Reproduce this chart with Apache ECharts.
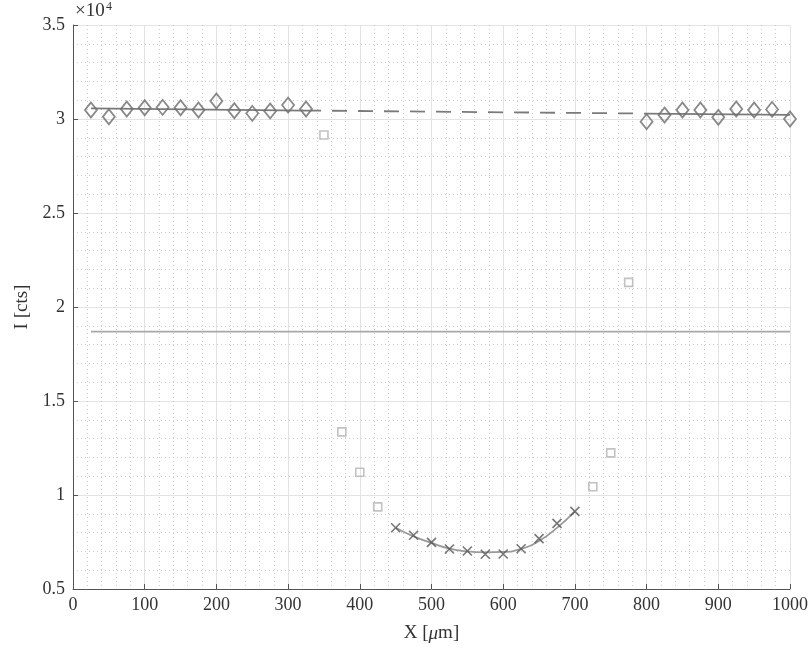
<!DOCTYPE html>
<html><head><meta charset="utf-8">
<script src="https://cdn.jsdelivr.net/npm/echarts@6/dist/echarts.min.js"></script>
<style>html,body{margin:0;padding:0;background:#fff}#c{width:812px;height:653px}</style>
</head><body><div id="c"></div>
<script>
// Values in units of 10^4 counts
const diamondX = [25,50,75,100,125,150,175,200,225,250,275,300,325,800,825,850,875,900,925,950,975,1000];
const diamondY = [3.048,3.012,3.053,3.060,3.062,3.060,3.048,3.096,3.044,3.030,3.043,3.074,3.053,2.986,3.021,3.048,3.048,3.009,3.053,3.048,3.051,3.000];
const squareX = [350,375,400,425,725,750,775];
const squareY = [2.915,1.336,1.121,0.937,1.044,1.224,2.131];
const crossX = [450,475,500,525,550,575,600,625,650,675,700];
const crossY = [0.826,0.786,0.748,0.713,0.702,0.685,0.686,0.714,0.768,0.849,0.913];
const curveY = [0.826,0.780,0.745,0.715,0.700,0.695,0.697,0.713,0.755,0.825,0.913];
const fitSolidLeftX = [25,325];
const fitSolidLeftY = [3.057,3.045];
const fitDashX = [325,800];
const fitDashY = [3.045,3.029];
const fitSolidRightX = [800,1000];
const fitSolidRightY = [3.029,3.022];
const hLineX = [25,1000];
const hLineY = [1.869,1.869];
const yTicks = ['0.5','1','1.5','2','2.5','3','3.5'];
const xTicks = ['0','100','200','300','400','500','600','700','800','900','1000'];

const zip = (a,b) => a.map((v,i)=>[v,b[i]]);
const FONT = 'Liberation Serif';
const chart = echarts.init(document.getElementById('c'));
chart.setOption({
  animation:false,
  backgroundColor:'#fff',
  grid:{left:73,right:22,top:25,bottom:64},
  xAxis:{type:'value',min:0,max:1000,interval:100,
    name:'X [{i|μ}m]',nameLocation:'middle',nameGap:35,
    nameTextStyle:{fontFamily:FONT,fontSize:19,color:'#333',
      rich:{i:{fontFamily:FONT,fontSize:19,fontStyle:'italic',color:'#333'}}},
    axisLine:{show:true,onZero:false,lineStyle:{color:'#555',width:1}},
    axisTick:{show:true,inside:true,length:5,lineStyle:{color:'#555'}},
    axisLabel:{fontFamily:FONT,fontSize:18,color:'#333',margin:7,
      formatter:(v)=>{const i=Math.round(v/100);return xTicks[i]!==undefined?xTicks[i]:'';}},
    splitLine:{show:true,lineStyle:{color:'#e3e3e3',width:1}},
    minorTick:{show:false,splitNumber:5},
    minorSplitLine:{show:true,lineStyle:{color:'#cccccc',width:1,type:[1,3]}}
  },
  yAxis:{type:'value',min:0.5,max:3.5,interval:0.5,
    name:'I [cts]',nameLocation:'middle',nameGap:41,
    nameTextStyle:{fontFamily:FONT,fontSize:19,color:'#333'},
    axisLine:{show:true,onZero:false,lineStyle:{color:'#555',width:1}},
    axisTick:{show:true,inside:true,length:5,lineStyle:{color:'#555'}},
    axisLabel:{fontFamily:FONT,fontSize:18,color:'#333',margin:8,
      formatter:(v)=>{const i=Math.round((v-0.5)/0.5);return yTicks[i]!==undefined?yTicks[i]:'';}},
    splitLine:{show:true,lineStyle:{color:'#e3e3e3',width:1}},
    minorTick:{show:false,splitNumber:5},
    minorSplitLine:{show:true,lineStyle:{color:'#cccccc',width:1,type:[1,3]}}
  },
  graphic:[
    {type:'text',x:75,y:2,style:{text:'×10',font:'19px "Liberation Serif"',fill:'#333'}},
    {type:'text',x:106,y:1,style:{text:'4',font:'12px "Liberation Serif"',fill:'#333'}}
  ],
  series:[
    {type:'line',data:zip(hLineX,hLineY),symbol:'none',lineStyle:{color:'#a8a8a8',width:1.6},z:2},
    {type:'line',data:zip(fitSolidLeftX,fitSolidLeftY),symbol:'none',lineStyle:{color:'#7a7a7a',width:1.8},z:3},
    {type:'line',data:zip(fitDashX,fitDashY),symbol:'none',lineStyle:{color:'#7a7a7a',width:1.8,type:[15,11]},z:3},
    {type:'line',data:zip(fitSolidRightX,fitSolidRightY),symbol:'none',lineStyle:{color:'#7a7a7a',width:1.8},z:3},
    {type:'line',data:zip(crossX,curveY),symbol:'none',smooth:true,lineStyle:{color:'#9a9a9a',width:1.8},z:3},
    {type:'scatter',data:zip(diamondX,diamondY),symbol:'diamond',symbolSize:[12,15],
      itemStyle:{color:'rgba(255,255,255,0)',borderColor:'#6b6b6b',borderWidth:1.8},z:5},
    {type:'scatter',data:zip(squareX,squareY),symbol:'rect',symbolSize:8,
      itemStyle:{color:'rgba(255,255,255,0)',borderColor:'#b3b3b3',borderWidth:1.6},z:5},
    {type:'scatter',data:zip(crossX,crossY),symbol:'path://M0,0L10,10M10,0L0,10',symbolSize:9,
      itemStyle:{color:'rgba(0,0,0,0)',borderColor:'#555',borderWidth:1.6},z:5}
  ]
});
</script></body></html>
